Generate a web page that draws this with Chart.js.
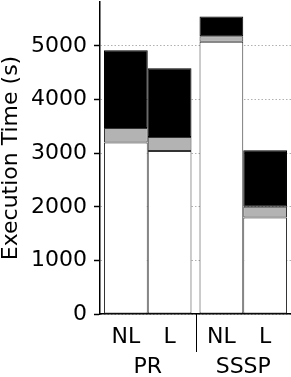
<!DOCTYPE html>
<html>
<head>
<meta charset="utf-8">
<script src="https://cdn.jsdelivr.net/npm/chart.js@4"></script>
<style>
  html, body { margin: 0; padding: 0; background: #fff; overflow: hidden; }
  canvas { display: block; }
</style>
</head>
<body>
<canvas id="myChart" width="291" height="377"></canvas>
<script>
// values (seconds)
const groups = ['PR', 'SSSP'];
const variants = ['NL', 'L'];
const yTicks = [0, 1000, 2000, 3000, 4000, 5000];

// NL bars (PR, SSSP)
const nlBase = [3200, 5080];
const nlMid = [270, 100];
const nlTop = [1450, 370];
// L bars (PR, SSSP)
const lBase = [3040, 1800];
const lMid = [260, 200];
const lTop = [1283, 1055];

const FONT = 'DejaVu Sans';

function seg(data, stack, fill, edge) {
  return {
    data: data,
    stack: stack,
    backgroundColor: fill,
    borderColor: edge,
    borderWidth: 1,
    borderSkipped: false,
    barPercentage: 1,
    categoryPercentage: 0.916
  };
}

// labels under each bar + group names + separator
const xLabels = {
  id: 'xLabels',
  afterDraw(chart) {
    const c = chart.ctx;
    const xs = chart.scales.x;
    const bottom = chart.chartArea.bottom;
    c.save();
    c.fillStyle = '#000';
    c.font = '22px "' + FONT + '"';
    c.textAlign = 'center';
    c.textBaseline = 'middle';
    [0, 3].forEach((di, v) => {
      const meta = chart.getDatasetMeta(di);
      meta.data.forEach(bar => c.fillText(variants[v], bar.x, bottom + 23));
    });
    groups.forEach((g, i) => c.fillText(g, xs.getPixelForValue(i), bottom + 53));
    const sep = (xs.getPixelForValue(0) + xs.getPixelForValue(1)) / 2;
    c.strokeStyle = '#000';
    c.lineWidth = 1;
    c.beginPath();
    c.moveTo(Math.round(sep) + 0.5, bottom);
    c.lineTo(Math.round(sep) + 0.5, bottom + 38);
    c.stroke();
    c.restore();
  }
};

const ctx = document.getElementById('myChart').getContext('2d');
const myChart = new Chart(ctx, {
  type: 'bar',
  data: {
    labels: groups,
    datasets: [
      seg(nlBase, 'NL', '#ffffff', '#333333'),
      seg(nlMid, 'NL', '#b3b3b3', '#333333'),
      seg(nlTop, 'NL', '#000000', '#000000'),
      seg(lBase, 'L', '#ffffff', '#333333'),
      seg(lMid, 'L', '#b3b3b3', '#333333'),
      seg(lTop, 'L', '#000000', '#000000')
    ]
  },
  options: {
    responsive: false,
    animation: false,
    devicePixelRatio: 1,
    layout: { padding: { top: 2, right: 0, left: 0, bottom: 0 } },
    plugins: { legend: { display: false }, tooltip: { enabled: false } },
    scales: {
      x: {
        stacked: true,
        grid: { display: false },
        border: { display: true, color: '#000', width: 1.5 },
        ticks: { display: false },
        afterFit(scale) {
          scale.height = 63;
          scale.paddingLeft = 0;
          scale.paddingRight = 0;
        }
      },
      y: {
        stacked: true,
        min: 0,
        max: 5820,
        afterBuildTicks(scale) { scale.ticks = yTicks.map(v => ({ value: v })); },
        ticks: {
          color: '#000',
          padding: 7,
          font: { family: FONT, size: 22 },
          callback: v => String(v)
        },
        grid: {
          color: '#b0b0b0',
          lineWidth: 1,
          tickColor: '#000',
          tickLength: 6,
          tickWidth: 1.5
        },
        border: { display: true, color: '#000', width: 1.5, dash: [1.5, 2] },
        title: {
          display: true,
          text: 'Execution Time (s)',
          color: '#000',
          padding: { top: 0, bottom: 0 },
          font: { family: FONT, size: 22, lineHeight: 1 }
        },
        afterFit(scale) {
          scale.width = 100;
          scale.paddingTop = 0;
          scale.paddingBottom = 0;
        }
      }
    }
  },
  plugins: [xLabels]
});
</script>
</body>
</html>
